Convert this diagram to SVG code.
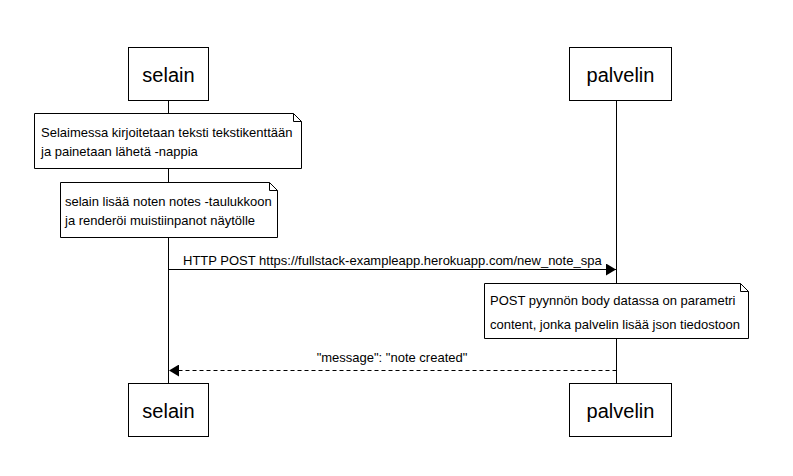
<svg xmlns="http://www.w3.org/2000/svg" width="793" height="476" viewBox="0 0 793 476">
<style>
.box{fill:#fff;stroke:#000;stroke-width:1}
.life{stroke:#000;stroke-width:1;fill:none}
.lbl{font-family:"Liberation Sans",Arial,sans-serif;font-size:20px;fill:#000;text-anchor:middle}
.txt{font-family:"Liberation Sans",Arial,sans-serif;font-size:13px;fill:#000}
.msg{stroke:#000;stroke-width:1;fill:none}
</style>
<defs>
<marker id="ah" markerWidth="10" markerHeight="12" refX="10" refY="6" orient="auto" markerUnits="userSpaceOnUse">
<path d="M0,0 L10,6 L0,12 Z" fill="#000"/>
</marker>
</defs>
<rect width="793" height="476" fill="#fff"/>
<g id="lifelines">
<line class="life" x1="168.5" y1="100" x2="168.5" y2="383"/>
<line class="life" x1="616.5" y1="100" x2="616.5" y2="383"/>
</g>
<g id="selain-top"><rect class="box" x="128.5" y="47.5" width="80" height="53"/><text class="lbl" x="168.5" y="82">selain</text></g>
<g id="palvelin-top"><rect class="box" x="569.5" y="47.5" width="102" height="53"/><text class="lbl" x="620.5" y="82">palvelin</text></g>
<g id="selain-bottom"><rect class="box" x="128.5" y="383.5" width="80" height="53"/><text class="lbl" x="168.5" y="418">selain</text></g>
<g id="palvelin-bottom"><rect class="box" x="569.5" y="383.5" width="102" height="53"/><text class="lbl" x="620.5" y="418">palvelin</text></g>
<g id="note1">
<path class="box" d="M34.5,113.5 H293.5 L301.5,121.5 V168.5 H34.5 Z"/>
<path class="life" d="M293.5,113.5 V121.5 H301.5"/>
<text class="txt" x="41" y="136.5">Selaimessa kirjoitetaan teksti tekstikenttään</text>
<text class="txt" x="41" y="156">ja painetaan lähetä -nappia</text>
</g>
<g id="note2">
<path class="box" d="M60.5,182.5 H269.5 L277.5,190.5 V237.5 H60.5 Z"/>
<path class="life" d="M269.5,182.5 V190.5 H277.5"/>
<text class="txt" x="65" y="205.5">selain lisää noten notes -taulukkoon</text>
<text class="txt" x="65" y="225">ja renderöi muistiinpanot näytölle</text>
</g>
<g id="note3">
<path class="box" d="M484.5,283.5 H740.5 L748.5,291.5 V338.5 H484.5 Z"/>
<path class="life" d="M740.5,283.5 V291.5 H748.5"/>
<text class="txt" x="490" y="304.5">POST pyynnön body datassa on parametri</text>
<text class="txt" x="490" y="329">content, jonka palvelin lisää json tiedostoon</text>
</g>
<g id="connectors">
<line class="msg" x1="168.5" y1="269.5" x2="616" y2="269.5" marker-end="url(#ah)"/>
<text class="txt" x="183" y="265">HTTP POST https://fullstack-exampleapp.herokuapp.com/new_note_spa</text>
<line class="msg" x1="616.5" y1="370.5" x2="169" y2="370.5" stroke-dasharray="4,3" marker-end="url(#ah)"/>
<text class="txt" x="392" y="362" text-anchor="middle">"message": "note created"</text>
</g>
</svg>
